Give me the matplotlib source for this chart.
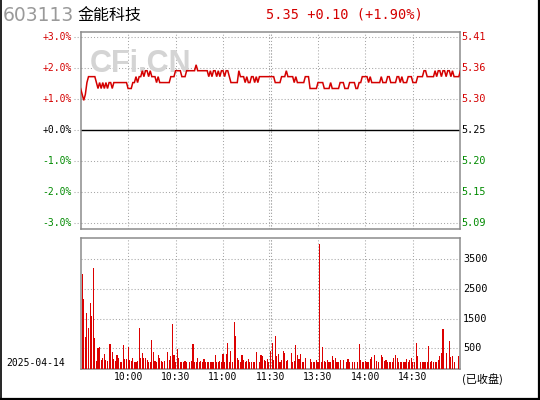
import matplotlib
matplotlib.use("Agg")
import matplotlib.pyplot as plt
from matplotlib.lines import Line2D
import matplotlib.transforms as mtransforms

# ---------------- data ----------------
code = "603113"
name = "金能科技"
date_label = "2025-04-14"
status_label = "(已收盘)"
prev_close = 5.25
last_price = 5.35
change = 0.10
change_pct = 1.90

price = [
    5.32, 5.31, 5.30, 5.31, 5.33, 5.34, 5.34, 5.34, 5.34, 5.34,
    5.33, 5.32, 5.33, 5.32, 5.33, 5.32, 5.33, 5.32, 5.33, 5.33,
    5.32, 5.33, 5.33, 5.33, 5.33, 5.33, 5.33, 5.33, 5.33, 5.33,
    5.32, 5.32, 5.32, 5.33, 5.33, 5.34, 5.33, 5.34, 5.34, 5.35,
    5.34, 5.35, 5.35, 5.34, 5.35, 5.34, 5.34, 5.34, 5.33, 5.34,
    5.33, 5.33, 5.33, 5.33, 5.33, 5.33, 5.33, 5.34, 5.34, 5.34,
    5.35, 5.35, 5.35, 5.35, 5.34, 5.34, 5.34, 5.35, 5.35, 5.35,
    5.35, 5.35, 5.35, 5.36, 5.35, 5.35, 5.35, 5.35, 5.35, 5.35,
    5.35, 5.34, 5.35, 5.34, 5.35, 5.35, 5.34, 5.35, 5.34, 5.35,
    5.35, 5.34, 5.35, 5.35, 5.34, 5.33, 5.33, 5.33, 5.33, 5.33,
    5.35, 5.34, 5.34, 5.34, 5.33, 5.34, 5.33, 5.33, 5.34, 5.34,
    5.33, 5.34, 5.33, 5.34, 5.34, 5.34, 5.34, 5.34, 5.34, 5.34,
    5.34, 5.34, 5.34, 5.33, 5.33, 5.33, 5.33, 5.34, 5.34, 5.34,
    5.35, 5.34, 5.34, 5.34, 5.34, 5.33, 5.34, 5.33, 5.33, 5.33,
    5.33, 5.33, 5.34, 5.34, 5.34, 5.32, 5.32, 5.32, 5.32, 5.32,
    5.33, 5.33, 5.33, 5.33, 5.32, 5.32, 5.32, 5.32, 5.33, 5.32,
    5.32, 5.32, 5.32, 5.32, 5.33, 5.33, 5.33, 5.32, 5.32, 5.32,
    5.33, 5.33, 5.33, 5.33, 5.32, 5.32, 5.33, 5.33, 5.34, 5.34,
    5.34, 5.34, 5.33, 5.34, 5.33, 5.33, 5.33, 5.33, 5.33, 5.33,
    5.34, 5.33, 5.33, 5.33, 5.34, 5.34, 5.33, 5.33, 5.33, 5.33,
    5.34, 5.34, 5.33, 5.34, 5.33, 5.33, 5.33, 5.34, 5.34, 5.34,
    5.33, 5.33, 5.33, 5.34, 5.34, 5.34, 5.34, 5.35, 5.35, 5.34,
    5.34, 5.34, 5.34, 5.34, 5.35, 5.34, 5.35, 5.35, 5.34, 5.35,
    5.35, 5.34, 5.35, 5.35, 5.34, 5.35, 5.34, 5.34, 5.34, 5.34,
    5.35,
]

volume = [
    310, 3000, 2160, 880, 1690, 1185, 2030, 1590, 3210, 850,
    75, 510, 545, 110, 175, 310, 110, 75, 645, 645,
    375, 140, 75, 275, 175, 40, 40, 610, 140, 140,
    545, 110, 75, 175, 40, 40, 75, 1185, 175, 340,
    175, 175, 110, 30, 30, 780, 375, 75, 40, 275,
    175, 75, 30, 75, 0, 375, 110, 240, 1320, 275,
    30, 480, 175, 30, 30, 40, 75, 30, 0, 30,
    75, 645, 40, 40, 175, 40, 75, 40, 140, 30,
    30, 30, 40, 40, 30, 275, 30, 30, 75, 40,
    310, 30, 310, 680, 30, 410, 40, 1390, 915, 175,
    110, 30, 275, 110, 30, 75, 140, 40, 30, 40,
    30, 375, 0, 30, 275, 240, 110, 75, 140, 40,
    410, 680, 110, 915, 240, 310, 30, 110, 410, 340,
    75, 110, 0, 340, 40, 75, 610, 275, 140, 310,
    40, 40, 175, 0, 0, 140, 30, 30, 40, 110,
    30, 4020, 40, 545, 75, 40, 110, 30, 40, 240,
    110, 175, 40, 40, 110, 0, 110, 0, 30, 140,
    30, 0, 30, 40, 0, 30, 645, 110, 30, 40,
    75, 40, 30, 140, 210, 0, 275, 75, 40, 0,
    275, 210, 75, 110, 30, 40, 30, 40, 175, 275,
    175, 30, 40, 30, 30, 30, 140, 30, 110, 175,
    40, 30, 680, 240, 0, 40, 30, 30, 40, 40,
    580, 30, 75, 30, 40, 30, 110, 240, 340, 1150,
    0, 343, 0, 750, 220, 240, 50, 0, 0, 240,
    0,
]

pct_ticks = [3, 2, 1, 0, -1, -2, -3]
pct_labels = ["+3.0%", "+2.0%", "+1.0%", "+0.0%", "-1.0%", "-2.0%", "-3.0%"]
price_labels = ["5.41", "5.36", "5.30", "5.25", "5.20", "5.15", "5.09"]
vol_ticks = [500, 1500, 2500, 3500]
vol_labels = ["500", "1500", "2500", "3500"]
time_ticks = [30, 60, 90, 120, 150, 180, 210]
time_labels = ["10:00", "10:30", "11:00", "11:30", "13:30", "14:00", "14:30"]

# ---------------- style ----------------
RED = "#d40000"
GREEN = "#008a00"
GRID = "#a6a6a6"
SPINE = "#8c8c8c"
MONO = "DejaVu Sans Mono"
CJK = ["Noto Sans CJK SC", "DejaVu Sans"]

W, H = 540, 400
fig = plt.figure(figsize=(W / 100, H / 100), dpi=100)
fig.patch.set_facecolor("white")


def frac_x(px):
    return px / W


def frac_y(py):
    return 1 - py / H


L, R = 80.6, 460.4
ax = fig.add_axes([frac_x(L), frac_y(228.5), frac_x(R - L), (228.5 - 31.7) / H])
axv = fig.add_axes([frac_x(L), frac_y(369.3), frac_x(R - L), (369.3 - 238.3) / H])

n = len(price)
xs = list(range(n))
pct = [(p / prev_close - 1) * 100 for p in price]

for a in (ax, axv):
    a.set_xlim(0, 240)
    a.set_xticks([])
    a.set_yticks([])
    for s in a.spines.values():
        s.set_color(SPINE)
        s.set_linewidth(1.1)
    a.set_facecolor("white")

dot = (0, (1, 2))

# ---- price panel ----
ax.set_ylim(-3.17, 3.16)
for t in pct_ticks:
    if t == 0:
        ax.axhline(0, color="black", lw=1.0, zorder=2)
    else:
        ax.axhline(t, color=GRID, lw=0.75, ls=dot, zorder=1)
    ax.plot([-4.2, 0], [t, t], color=GRID, lw=0.75, ls=dot, clip_on=False, zorder=1)
for t in time_ticks:
    ax.axvline(t, color=GRID, lw=0.75, ls=dot, zorder=1)
    axv.axvline(t, color=GRID, lw=0.75, ls=dot, zorder=1)
ax.axvline(119.3, color=GRID, lw=0.75, ls=dot, zorder=1)
ax.axvline(120.4, color=GRID, lw=0.75, ls=dot, zorder=1)
axv.axvline(119.3, color=GRID, lw=0.75, ls=dot, zorder=1)
axv.axvline(120.4, color=GRID, lw=0.75, ls=dot, zorder=1)

ax.text(0.025, 0.835, "CFi.CN", transform=ax.transAxes, fontsize=22,
        fontweight="bold", family="Liberation Sans", color="#d4d4d4",
        ha="left", va="center", zorder=1.5)

ax.plot(xs, pct, color=RED, lw=1.1, zorder=3, solid_joinstyle="miter")

trans_l = mtransforms.blended_transform_factory(ax.transAxes, ax.transData)
for t, lab, plab in zip(pct_ticks, pct_labels, price_labels):
    col = RED if t > 0 else ("black" if t == 0 else GREEN)
    ax.text(-0.024, t, lab, transform=trans_l, ha="right", va="center",
            fontsize=7, family=MONO, color=col)
    ax.text(1.003, t, plab, transform=trans_l, ha="left", va="center",
            fontsize=7.3, family=MONO, color=col)

# ---- volume panel ----
axv.set_ylim(-205, 4205)
for t in vol_ticks:
    axv.axhline(t, color=GRID, lw=0.75, ls=dot, zorder=1)
vx = [i for i, v in enumerate(volume) if v > 0]
vh = [volume[i] + 205 for i in vx]
axv.bar(vx, vh, bottom=-205, width=0.7, color="#dc0000", linewidth=0,
        antialiased=False, zorder=3)

trans_v = mtransforms.blended_transform_factory(axv.transAxes, axv.transData)
for t, lab in zip(vol_ticks, vol_labels):
    axv.text(1.007, t, lab, transform=trans_v, ha="left", va="center",
             fontsize=7.3, family=MONO, color="black")

trans_t = mtransforms.blended_transform_factory(axv.transData, axv.transAxes)
for t, lab in zip(time_ticks, time_labels):
    axv.text(t, -0.058, lab, transform=trans_t, ha="center", va="center",
             fontsize=7, family=MONO, color="black")

fig.text(frac_x(6.5), frac_y(363.5), date_label, ha="left", va="center",
         fontsize=7, family=MONO, color="black")
fig.text(frac_x(462), frac_y(379), status_label, ha="left", va="center",
         fontsize=8, family=CJK, color="black")

# ---- header ----
fig.text(frac_x(2.5), frac_y(15.5), code, ha="left", va="center",
         fontsize=13.5, family="DejaVu Sans", color="#9a9a9a")
fig.text(frac_x(77), frac_y(15), name, ha="left", va="center",
         fontsize=11.5, family=CJK, color="black")
fig.text(frac_x(266), frac_y(15), f"{last_price:.2f} +{change:.2f} (+{change_pct:.2f}%)",
         ha="left", va="center", fontsize=9.8, family=MONO, color=RED)

# ---- outer frame ----
fig.add_artist(Line2D([frac_x(0.7), frac_x(0.7)], [0, 1], color="black", lw=1.2))
fig.add_artist(Line2D([frac_x(538.8), frac_x(538.8)], [0, 1], color="black", lw=1.6))
fig.add_artist(Line2D([0, 1], [frac_y(398.8), frac_y(398.8)], color="black", lw=1.6))

fig.savefig("out.png", dpi=100, facecolor="white")
